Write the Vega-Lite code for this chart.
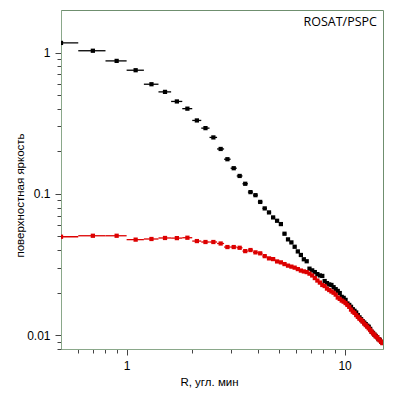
{
  "$schema": "https://vega.github.io/schema/vega-lite/v6.json",
  "width": 322,
  "height": 339,
  "autosize": {"type": "none"},
  "padding": {"left": 61, "top": 10, "right": 11, "bottom": 50},
  "background": "white",
  "config": {
    "view": {"stroke": "#6f8f6f", "strokeWidth": 1},
    "axis": {
      "grid": false,
      "domainColor": "#8aa88a",
      "tickColor": "#444444",
      "labelFont": "Liberation Sans",
      "labelFontSize": 12,
      "labelColor": "#000000",
      "titleFont": "Liberation Sans",
      "titleFontSize": 11.5,
      "titleFontWeight": "normal",
      "titleColor": "#000000",
      "labelOverlap": false
    }
  },
  "datasets": {
    "prof": [
      {"R": 0.5, "lo": 0.4, "hi": 0.6, "s": "a", "b": 1.17},
      {"R": 0.7, "lo": 0.6, "hi": 0.8, "s": "a", "b": 1.03},
      {"R": 0.9, "lo": 0.8, "hi": 1.0, "s": "a", "b": 0.873},
      {"R": 1.1, "lo": 1.0, "hi": 1.2, "s": "a", "b": 0.75},
      {"R": 1.3, "lo": 1.2, "hi": 1.4, "s": "a", "b": 0.597},
      {"R": 1.5, "lo": 1.4, "hi": 1.6, "s": "a", "b": 0.527},
      {"R": 1.7, "lo": 1.6, "hi": 1.8, "s": "a", "b": 0.451},
      {"R": 1.9, "lo": 1.8, "hi": 2.0, "s": "a", "b": 0.401},
      {"R": 2.1, "lo": 2.0, "hi": 2.2, "s": "a", "b": 0.331},
      {"R": 2.3, "lo": 2.2, "hi": 2.4, "s": "a", "b": 0.292},
      {"R": 2.5, "lo": 2.4, "hi": 2.6, "s": "a", "b": 0.251},
      {"R": 2.7, "lo": 2.6, "hi": 2.8, "s": "a", "b": 0.208},
      {"R": 2.9, "lo": 2.8, "hi": 3.0, "s": "a", "b": 0.176},
      {"R": 3.1, "lo": 3.0, "hi": 3.2, "s": "a", "b": 0.152},
      {"R": 3.3, "lo": 3.2, "hi": 3.4, "s": "a", "b": 0.134},
      {"R": 3.5, "lo": 3.4, "hi": 3.6, "s": "a", "b": 0.118},
      {"R": 3.7, "lo": 3.6, "hi": 3.8, "s": "a", "b": 0.103},
      {"R": 3.9, "lo": 3.8, "hi": 4.0, "s": "a", "b": 0.098},
      {"R": 4.1, "lo": 4.0, "hi": 4.2, "s": "a", "b": 0.0878},
      {"R": 4.3, "lo": 4.2, "hi": 4.4, "s": "a", "b": 0.079},
      {"R": 4.5, "lo": 4.4, "hi": 4.6, "s": "a", "b": 0.074},
      {"R": 4.7, "lo": 4.6, "hi": 4.8, "s": "a", "b": 0.0682},
      {"R": 4.9, "lo": 4.8, "hi": 5.0, "s": "a", "b": 0.0646},
      {"R": 5.1, "lo": 5.0, "hi": 5.2, "s": "a", "b": 0.0612},
      {"R": 5.3, "lo": 5.2, "hi": 5.4, "s": "a", "b": 0.0523},
      {"R": 5.5, "lo": 5.4, "hi": 5.6, "s": "a", "b": 0.0477},
      {"R": 5.7, "lo": 5.6, "hi": 5.8, "s": "a", "b": 0.0454},
      {"R": 5.9, "lo": 5.8, "hi": 6.0, "s": "a", "b": 0.0423},
      {"R": 6.1, "lo": 6.0, "hi": 6.2, "s": "a", "b": 0.0392},
      {"R": 6.3, "lo": 6.2, "hi": 6.4, "s": "a", "b": 0.037},
      {"R": 6.5, "lo": 6.4, "hi": 6.6, "s": "a", "b": 0.0345},
      {"R": 6.7, "lo": 6.6, "hi": 6.8, "s": "a", "b": 0.0334},
      {"R": 6.9, "lo": 6.8, "hi": 7.0, "s": "a", "b": 0.0296},
      {"R": 7.1, "lo": 7.0, "hi": 7.2, "s": "a", "b": 0.0288},
      {"R": 7.3, "lo": 7.2, "hi": 7.4, "s": "a", "b": 0.028},
      {"R": 7.5, "lo": 7.4, "hi": 7.6, "s": "a", "b": 0.0271},
      {"R": 7.7, "lo": 7.6, "hi": 7.8, "s": "a", "b": 0.0265},
      {"R": 7.9, "lo": 7.8, "hi": 8.0, "s": "a", "b": 0.0263},
      {"R": 8.1, "lo": 8.0, "hi": 8.2, "s": "a", "b": 0.0242},
      {"R": 8.3, "lo": 8.2, "hi": 8.4, "s": "a", "b": 0.0234},
      {"R": 8.5, "lo": 8.4, "hi": 8.6, "s": "a", "b": 0.0229},
      {"R": 8.7, "lo": 8.6, "hi": 8.8, "s": "a", "b": 0.0227},
      {"R": 8.9, "lo": 8.8, "hi": 9.0, "s": "a", "b": 0.0219},
      {"R": 9.1, "lo": 9.0, "hi": 9.2, "s": "a", "b": 0.0212},
      {"R": 9.3, "lo": 9.2, "hi": 9.4, "s": "a", "b": 0.0206},
      {"R": 9.5, "lo": 9.4, "hi": 9.6, "s": "a", "b": 0.0199},
      {"R": 9.7, "lo": 9.6, "hi": 9.8, "s": "a", "b": 0.0187},
      {"R": 9.9, "lo": 9.8, "hi": 10.0, "s": "a", "b": 0.0184},
      {"R": 10.1, "lo": 10.0, "hi": 10.2, "s": "a", "b": 0.0178},
      {"R": 10.3, "lo": 10.2, "hi": 10.4, "s": "a", "b": 0.0168},
      {"R": 10.5, "lo": 10.4, "hi": 10.6, "s": "a", "b": 0.0164},
      {"R": 10.7, "lo": 10.6, "hi": 10.8, "s": "a", "b": 0.0159},
      {"R": 10.9, "lo": 10.8, "hi": 11.0, "s": "a", "b": 0.0153},
      {"R": 11.1, "lo": 11.0, "hi": 11.2, "s": "a", "b": 0.0149},
      {"R": 11.3, "lo": 11.2, "hi": 11.4, "s": "a", "b": 0.0145},
      {"R": 11.5, "lo": 11.4, "hi": 11.6, "s": "a", "b": 0.0139},
      {"R": 11.7, "lo": 11.6, "hi": 11.8, "s": "a", "b": 0.0134},
      {"R": 11.9, "lo": 11.8, "hi": 12.0, "s": "a", "b": 0.013},
      {"R": 12.1, "lo": 12.0, "hi": 12.2, "s": "a", "b": 0.0126},
      {"R": 12.3, "lo": 12.2, "hi": 12.4, "s": "a", "b": 0.0123},
      {"R": 12.5, "lo": 12.4, "hi": 12.6, "s": "a", "b": 0.012},
      {"R": 12.7, "lo": 12.6, "hi": 12.8, "s": "a", "b": 0.0117},
      {"R": 12.9, "lo": 12.8, "hi": 13.0, "s": "a", "b": 0.0115},
      {"R": 13.1, "lo": 13.0, "hi": 13.2, "s": "a", "b": 0.0111},
      {"R": 13.3, "lo": 13.2, "hi": 13.4, "s": "a", "b": 0.0106},
      {"R": 13.5, "lo": 13.4, "hi": 13.6, "s": "a", "b": 0.0104},
      {"R": 13.7, "lo": 13.6, "hi": 13.8, "s": "a", "b": 0.0101},
      {"R": 13.9, "lo": 13.8, "hi": 14.0, "s": "a", "b": 0.0099},
      {"R": 14.1, "lo": 14.0, "hi": 14.2, "s": "a", "b": 0.0097},
      {"R": 14.3, "lo": 14.2, "hi": 14.4, "s": "a", "b": 0.0094},
      {"R": 14.5, "lo": 14.4, "hi": 14.6, "s": "a", "b": 0.0093},
      {"R": 14.7, "lo": 14.6, "hi": 14.8, "s": "a", "b": 0.009},
      {"R": 14.9, "lo": 14.8, "hi": 15.0, "s": "a", "b": 0.0089},
      {"R": 0.5, "lo": 0.4, "hi": 0.6, "s": "b", "b": 0.0498},
      {"R": 0.7, "lo": 0.6, "hi": 0.8, "s": "b", "b": 0.0506},
      {"R": 0.9, "lo": 0.8, "hi": 1.0, "s": "b", "b": 0.0506},
      {"R": 1.1, "lo": 1.0, "hi": 1.2, "s": "b", "b": 0.0475},
      {"R": 1.3, "lo": 1.2, "hi": 1.4, "s": "b", "b": 0.048},
      {"R": 1.5, "lo": 1.4, "hi": 1.6, "s": "b", "b": 0.0488},
      {"R": 1.7, "lo": 1.6, "hi": 1.8, "s": "b", "b": 0.0487},
      {"R": 1.9, "lo": 1.8, "hi": 2.0, "s": "b", "b": 0.049},
      {"R": 2.1, "lo": 2.0, "hi": 2.2, "s": "b", "b": 0.0464},
      {"R": 2.3, "lo": 2.2, "hi": 2.4, "s": "b", "b": 0.0457},
      {"R": 2.5, "lo": 2.4, "hi": 2.6, "s": "b", "b": 0.0457},
      {"R": 2.7, "lo": 2.6, "hi": 2.8, "s": "b", "b": 0.0446},
      {"R": 2.9, "lo": 2.8, "hi": 3.0, "s": "b", "b": 0.0421},
      {"R": 3.1, "lo": 3.0, "hi": 3.2, "s": "b", "b": 0.0421},
      {"R": 3.3, "lo": 3.2, "hi": 3.4, "s": "b", "b": 0.0416},
      {"R": 3.5, "lo": 3.4, "hi": 3.6, "s": "b", "b": 0.0394},
      {"R": 3.7, "lo": 3.6, "hi": 3.8, "s": "b", "b": 0.0401},
      {"R": 3.9, "lo": 3.8, "hi": 4.0, "s": "b", "b": 0.0386},
      {"R": 4.1, "lo": 4.0, "hi": 4.2, "s": "b", "b": 0.038},
      {"R": 4.3, "lo": 4.2, "hi": 4.4, "s": "b", "b": 0.0363},
      {"R": 4.5, "lo": 4.4, "hi": 4.6, "s": "b", "b": 0.035},
      {"R": 4.7, "lo": 4.6, "hi": 4.8, "s": "b", "b": 0.0346},
      {"R": 4.9, "lo": 4.8, "hi": 5.0, "s": "b", "b": 0.0333},
      {"R": 5.1, "lo": 5.0, "hi": 5.2, "s": "b", "b": 0.0328},
      {"R": 5.3, "lo": 5.2, "hi": 5.4, "s": "b", "b": 0.0319},
      {"R": 5.5, "lo": 5.4, "hi": 5.6, "s": "b", "b": 0.0311},
      {"R": 5.7, "lo": 5.6, "hi": 5.8, "s": "b", "b": 0.0306},
      {"R": 5.9, "lo": 5.8, "hi": 6.0, "s": "b", "b": 0.0301},
      {"R": 6.1, "lo": 6.0, "hi": 6.2, "s": "b", "b": 0.0294},
      {"R": 6.3, "lo": 6.2, "hi": 6.4, "s": "b", "b": 0.0287},
      {"R": 6.5, "lo": 6.4, "hi": 6.6, "s": "b", "b": 0.0283},
      {"R": 6.7, "lo": 6.6, "hi": 6.8, "s": "b", "b": 0.028},
      {"R": 6.9, "lo": 6.8, "hi": 7.0, "s": "b", "b": 0.0273},
      {"R": 7.1, "lo": 7.0, "hi": 7.2, "s": "b", "b": 0.0265},
      {"R": 7.3, "lo": 7.2, "hi": 7.4, "s": "b", "b": 0.0254},
      {"R": 7.5, "lo": 7.4, "hi": 7.6, "s": "b", "b": 0.0244},
      {"R": 7.7, "lo": 7.6, "hi": 7.8, "s": "b", "b": 0.0236},
      {"R": 7.9, "lo": 7.8, "hi": 8.0, "s": "b", "b": 0.0227},
      {"R": 8.1, "lo": 8.0, "hi": 8.2, "s": "b", "b": 0.0223},
      {"R": 8.3, "lo": 8.2, "hi": 8.4, "s": "b", "b": 0.0214},
      {"R": 8.5, "lo": 8.4, "hi": 8.6, "s": "b", "b": 0.0209},
      {"R": 8.7, "lo": 8.6, "hi": 8.8, "s": "b", "b": 0.0204},
      {"R": 8.9, "lo": 8.8, "hi": 9.0, "s": "b", "b": 0.02},
      {"R": 9.1, "lo": 9.0, "hi": 9.2, "s": "b", "b": 0.0194},
      {"R": 9.3, "lo": 9.2, "hi": 9.4, "s": "b", "b": 0.0185},
      {"R": 9.5, "lo": 9.4, "hi": 9.6, "s": "b", "b": 0.0181},
      {"R": 9.7, "lo": 9.6, "hi": 9.8, "s": "b", "b": 0.0176},
      {"R": 9.9, "lo": 9.8, "hi": 10.0, "s": "b", "b": 0.0173},
      {"R": 10.1, "lo": 10.0, "hi": 10.2, "s": "b", "b": 0.0169},
      {"R": 10.3, "lo": 10.2, "hi": 10.4, "s": "b", "b": 0.0164},
      {"R": 10.5, "lo": 10.4, "hi": 10.6, "s": "b", "b": 0.0159},
      {"R": 10.7, "lo": 10.6, "hi": 10.8, "s": "b", "b": 0.0152},
      {"R": 10.9, "lo": 10.8, "hi": 11.0, "s": "b", "b": 0.0147},
      {"R": 11.1, "lo": 11.0, "hi": 11.2, "s": "b", "b": 0.0144},
      {"R": 11.3, "lo": 11.2, "hi": 11.4, "s": "b", "b": 0.0139},
      {"R": 11.5, "lo": 11.4, "hi": 11.6, "s": "b", "b": 0.0135},
      {"R": 11.7, "lo": 11.6, "hi": 11.8, "s": "b", "b": 0.0131},
      {"R": 11.9, "lo": 11.8, "hi": 12.0, "s": "b", "b": 0.0128},
      {"R": 12.1, "lo": 12.0, "hi": 12.2, "s": "b", "b": 0.0125},
      {"R": 12.3, "lo": 12.2, "hi": 12.4, "s": "b", "b": 0.0121},
      {"R": 12.5, "lo": 12.4, "hi": 12.6, "s": "b", "b": 0.0118},
      {"R": 12.7, "lo": 12.6, "hi": 12.8, "s": "b", "b": 0.0115},
      {"R": 12.9, "lo": 12.8, "hi": 13.0, "s": "b", "b": 0.0112},
      {"R": 13.1, "lo": 13.0, "hi": 13.2, "s": "b", "b": 0.0109},
      {"R": 13.3, "lo": 13.2, "hi": 13.4, "s": "b", "b": 0.0106},
      {"R": 13.5, "lo": 13.4, "hi": 13.6, "s": "b", "b": 0.0103},
      {"R": 13.7, "lo": 13.6, "hi": 13.8, "s": "b", "b": 0.0101},
      {"R": 13.9, "lo": 13.8, "hi": 14.0, "s": "b", "b": 0.0098},
      {"R": 14.1, "lo": 14.0, "hi": 14.2, "s": "b", "b": 0.0097},
      {"R": 14.3, "lo": 14.2, "hi": 14.4, "s": "b", "b": 0.0094},
      {"R": 14.5, "lo": 14.4, "hi": 14.6, "s": "b", "b": 0.0092},
      {"R": 14.7, "lo": 14.6, "hi": 14.8, "s": "b", "b": 0.009},
      {"R": 14.9, "lo": 14.8, "hi": 15.0, "s": "b", "b": 0.0088}
    ],
    "lbl": [{"t": "ROSAT/PSPC"}]
  },
  "layer": [
    {
      "data": {"name": "prof"},
      "mark": {"type": "rule", "strokeWidth": 1.3, "clip": true},
      "encoding": {
        "x": {
          "field": "lo",
          "type": "quantitative",
          "scale": {"type": "log", "domain": [0.5, 15], "nice": false},
          "axis": {
            "values": [0.6, 0.7, 0.8, 0.9, 1, 2, 3, 4, 5, 6, 7, 8, 9, 10],
            "labelExpr": "datum.value == 1 ? '1' : datum.value == 10 ? '10' : ''",
            "tickSize": {"condition": {"test": "datum.value == 1 || datum.value == 10", "value": 6}, "value": 4},
            "labelPadding": 5,
            "title": "R, угл. мин",
            "titleX": 148,
            "titlePadding": 5
          }
        },
        "x2": {"field": "hi"},
        "y": {
          "field": "b",
          "type": "quantitative",
          "scale": {"type": "log", "domain": [0.008, 2], "nice": false},
          "axis": {
            "values": [0.008, 0.009, 0.01, 0.02, 0.03, 0.04, 0.05, 0.06, 0.07, 0.08, 0.09, 0.1, 0.2, 0.3, 0.4, 0.5, 0.6, 0.7, 0.8, 0.9, 1],
            "labelExpr": "datum.value == 1 ? '1' : datum.value == 0.1 ? '0.1' : datum.value == 0.01 ? '0.01' : ''",
            "tickSize": {"condition": {"test": "datum.value == 1 || datum.value == 0.1 || datum.value == 0.01", "value": 6}, "value": 4},
            "labelPadding": 5,
            "title": "поверхностная яркость",
            "titleAngle": -90,
            "titleAlign": "center",
            "titleX": -41,
            "titleY": 185,
            "titleBaseline": "middle"
          }
        },
        "color": {
          "field": "s",
          "type": "nominal",
          "scale": {"domain": ["a", "b"], "range": ["#000000", "#dd0000"]},
          "legend": null
        }
      }
    },
    {
      "data": {"name": "prof"},
      "mark": {"type": "square", "size": 18, "filled": true, "opacity": 1, "clip": true},
      "encoding": {
        "x": {"field": "R", "type": "quantitative"},
        "y": {"field": "b", "type": "quantitative"},
        "color": {"field": "s", "type": "nominal"}
      }
    },
    {
      "data": {"name": "lbl"},
      "mark": {"type": "text", "align": "right", "baseline": "alphabetic", "font": "Open Sans", "fontSize": 12.5, "color": "#000000"},
      "encoding": {
        "x": {"datum": 14.07},
        "y": {"datum": 1.535},
        "text": {"field": "t"}
      }
    }
  ]
}
